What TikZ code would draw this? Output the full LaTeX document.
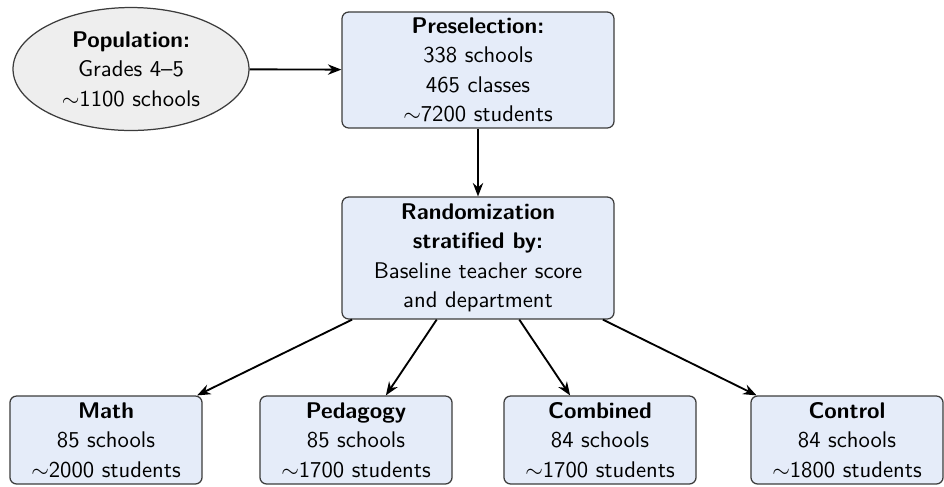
\documentclass[tikz,border=0pt]{standalone}
\usetikzlibrary{arrows.meta,shapes.geometric}
\definecolor{boxfill}{RGB}{229,236,249}
\definecolor{popfill}{RGB}{238,238,238}
\definecolor{edge}{RGB}{60,60,60}
\begin{document}
\begin{tikzpicture}[
  x=0.4831pt, y=-0.4831pt,
  font=\sffamily\fontsize{10.95}{14.2}\selectfont,
  stagebox/.style={draw=edge, line width=0.6pt, fill=boxfill, rounded corners=3.2pt,
    align=center, inner sep=0pt},
  popnode/.style={ellipse, draw=edge, line width=0.6pt, fill=popfill, align=center,
    inner sep=0pt, minimum width=114pt, minimum height=59.4pt},
  flow/.style={-{Stealth[length=6.5pt,width=5pt]}, line width=0.9pt, black}
]
\useasboundingbox (0,0) rectangle (944,486);

\node[popnode] (pop) at (131,69)
  {\textbf{Population:}\\Grades 4--5\\$\sim$1100 schools};

\node[stagebox, minimum width=131.4pt, minimum height=56pt] (pre) at (478,70)
  {\textbf{Preselection:}\\338 schools\\465 classes\\$\sim$7200 students};

\node[stagebox, minimum width=131.4pt, minimum height=58.9pt] (rand) at (478,258)
  {\textbf{Randomization}\\\textbf{stratified by:}\\Baseline teacher score\\and department};

\begin{scope}[every node/.style={stagebox, minimum width=92.8pt, minimum height=42.5pt}]
  \node (math) at (106,440) {\textbf{Math}\\85 schools\\$\sim$2000 students};
  \node (ped)  at (356,440) {\textbf{Pedagogy}\\85 schools\\$\sim$1700 students};
  \node (comb) at (600,440) {\textbf{Combined}\\84 schools\\$\sim$1700 students};
  \node (ctrl) at (847,440) {\textbf{Control}\\84 schools\\$\sim$1800 students};
\end{scope}

\draw[flow] (pop) -- (pre);
\draw[flow] (pre) -- (rand);
\draw[flow] (rand) -- (math);
\draw[flow] (rand) -- (ped);
\draw[flow] (rand) -- (comb);
\draw[flow] (rand) -- (ctrl);
\end{tikzpicture}
\end{document}
